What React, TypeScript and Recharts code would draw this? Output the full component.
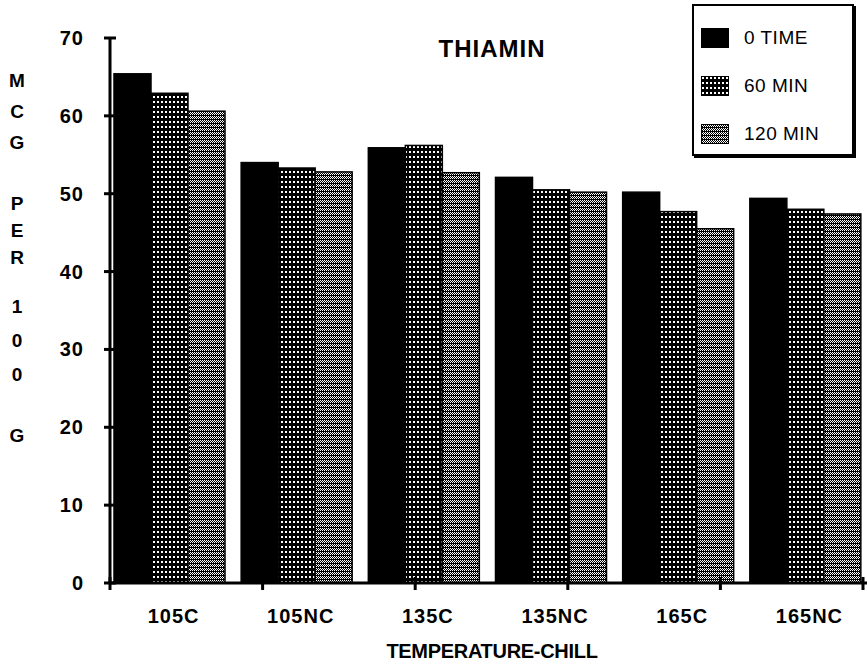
import { BarChart, Bar, XAxis, YAxis } from "recharts";

const categories = ["105C", "105NC", "135C", "135NC", "165C", "165NC"];
const zeroTime = [65.4, 54.0, 55.9, 52.1, 50.2, 49.4];
const sixtyMin = [62.9, 53.3, 56.2, 50.5, 47.7, 48.0];
const oneTwentyMin = [60.6, 52.8, 52.7, 50.2, 45.5, 47.4];
const yTicks = [0, 10, 20, 30, 40, 50, 60, 70];
const bandTicks = [0, 1, 2, 3, 4, 5, 6];
const seriesNames = ["0 TIME", "60 MIN", "120 MIN"];
const seriesFills = ["#000", "url(#p60)", "url(#p120)"];
const yLetters = [
  ["M", 80], ["C", 111], ["G", 142],
  ["P", 203], ["E", 230], ["R", 257],
  ["1", 306], ["0", 340], ["0", 374],
  ["G", 435],
];

const FONT = "'Liberation Sans', Arial, Helvetica, sans-serif";

const data = categories.map((c, i) => ({
  name: c,
  t0: zeroTime[i],
  t60: sixtyMin[i],
  t120: oneTwentyMin[i],
}));

/* bars sit a little left of the band centre in the original */
function ShiftedBar(props: any) {
  const { x, y, width, height, fill } = props;
  return (
    <rect
      x={x - 4}
      y={y}
      width={width}
      height={height}
      fill={fill}
      stroke="#000"
      strokeWidth={1.5}
    />
  );
}

function YTick({ x, y, payload }: any) {
  return (
    <g>
      <line x1={x - 6} x2={x + 6} y1={y} y2={y} stroke="#000" strokeWidth={3} />
      <text
        x={x - 26}
        y={y}
        textAnchor="end"
        dominantBaseline="central"
        fontFamily={FONT}
        fontWeight="bold"
        fontSize={20}
        letterSpacing={1}
        fill="#000"
      >
        {payload.value}
      </text>
    </g>
  );
}

function XTick({ x, y, payload }: any) {
  return (
    <text
      x={x}
      y={y + 25}
      textAnchor="middle"
      dominantBaseline="central"
      fontFamily={FONT}
      fontWeight="bold"
      fontSize={20}
      letterSpacing={1}
      fill="#000"
    >
      {payload.value}
    </text>
  );
}

function BandTick({ x, y }: any) {
  return <line x1={x} x2={x} y1={y - 9} y2={y + 4} stroke="#000" strokeWidth={3} />;
}

function LegendBox() {
  return (
    <div
      style={{
        position: "absolute",
        left: 692,
        top: 4,
        width: 162,
        height: 152,
        border: "2px solid #000",
        boxShadow: "2px 2px 0 #000",
        background: "#fff",
        boxSizing: "border-box",
        paddingTop: 8,
      }}
    >
      {seriesNames.map((n, i) => (
        <div key={n} style={{ display: "flex", alignItems: "center", height: 48 }}>
          <svg width={28} height={20} style={{ marginLeft: 7 }}>
            <rect x={0.5} y={0.5} width={27} height={19} fill={seriesFills[i]} stroke="#000" strokeWidth={1} />
          </svg>
          <span
            style={{
              marginLeft: 15,
              fontFamily: FONT,
              fontSize: 19,
              letterSpacing: 0.5,
              color: "#000",
            }}
          >
            {n}
          </span>
        </div>
      ))}
    </div>
  );
}

export default function App() {
  return (
    <div style={{ position: "absolute", left: 0, top: 0, width: 867, height: 668, background: "#fff" }}>
      <BarChart
        width={867}
        height={668}
        data={data}
        margin={{ top: 38, right: -6, bottom: 83, left: 50 }}
        barGap={0}
        barSize={37}
      >
        <defs>
          <pattern id="p60" width={4} height={5} patternUnits="userSpaceOnUse">
            <rect width={4} height={5} fill="#000" />
            <rect x={1} y={1} width={2} height={2} fill="#fff" />
          </pattern>
          <pattern id="p120" width={4} height={4} patternUnits="userSpaceOnUse">
            <rect width={4} height={4} fill="#000" />
            <rect x={0} y={0} width={1} height={1} fill="#fff" />
            <rect x={2} y={0} width={1} height={1} fill="#fff" />
            <rect x={1} y={1} width={1} height={1} fill="#fff" />
            <rect x={3} y={1} width={1} height={1} fill="#fff" />
            <rect x={0} y={2} width={1} height={1} fill="#fff" />
            <rect x={2} y={2} width={1} height={1} fill="#fff" />
          </pattern>
        </defs>

        <XAxis
          dataKey="name"
          height={1}
          axisLine={{ stroke: "#000", strokeWidth: 3 }}
          tickLine={false}
          tick={<XTick />}
          interval={0}
        />
        <XAxis
          xAxisId="bands"
          type="number"
          height={1}
          domain={[0, 6]}
          ticks={bandTicks}
          axisLine={false}
          tickLine={false}
          tickSize={0}
          tick={<BandTick />}
          allowDataOverflow
        />
        <YAxis
          width={60}
          domain={[0, 70]}
          ticks={yTicks}
          interval={0}
          axisLine={{ stroke: "#000", strokeWidth: 3 }}
          tickLine={false}
          tickSize={0}
          tickMargin={0}
          tick={<YTick />}
        />
        <Bar dataKey="t0" name={seriesNames[0]} fill={seriesFills[0]} shape={<ShiftedBar />} isAnimationActive={false} />
        <Bar dataKey="t60" name={seriesNames[1]} fill={seriesFills[1]} shape={<ShiftedBar />} isAnimationActive={false} />
        <Bar dataKey="t120" name={seriesNames[2]} fill={seriesFills[2]} shape={<ShiftedBar />} isAnimationActive={false} />

        <text
          x={492}
          y={48}
          textAnchor="middle"
          dominantBaseline="central"
          fontFamily={FONT}
          fontWeight="bold"
          fontSize={24}
          letterSpacing={1}
        >
          THIAMIN
        </text>
        <text
          x={492}
          y={651}
          textAnchor="middle"
          dominantBaseline="central"
          fontFamily={FONT}
          fontWeight="bold"
          fontSize={20}
          letterSpacing={-0.3}
        >
          TEMPERATURE-CHILL
        </text>
        {yLetters.map(([ch, yy], i) => (
          <text
            key={i}
            x={17}
            y={yy as number}
            textAnchor="middle"
            dominantBaseline="central"
            fontFamily={FONT}
            fontWeight="bold"
            fontSize={19}
          >
            {ch}
          </text>
        ))}
      </BarChart>
      <LegendBox />
    </div>
  );
}
